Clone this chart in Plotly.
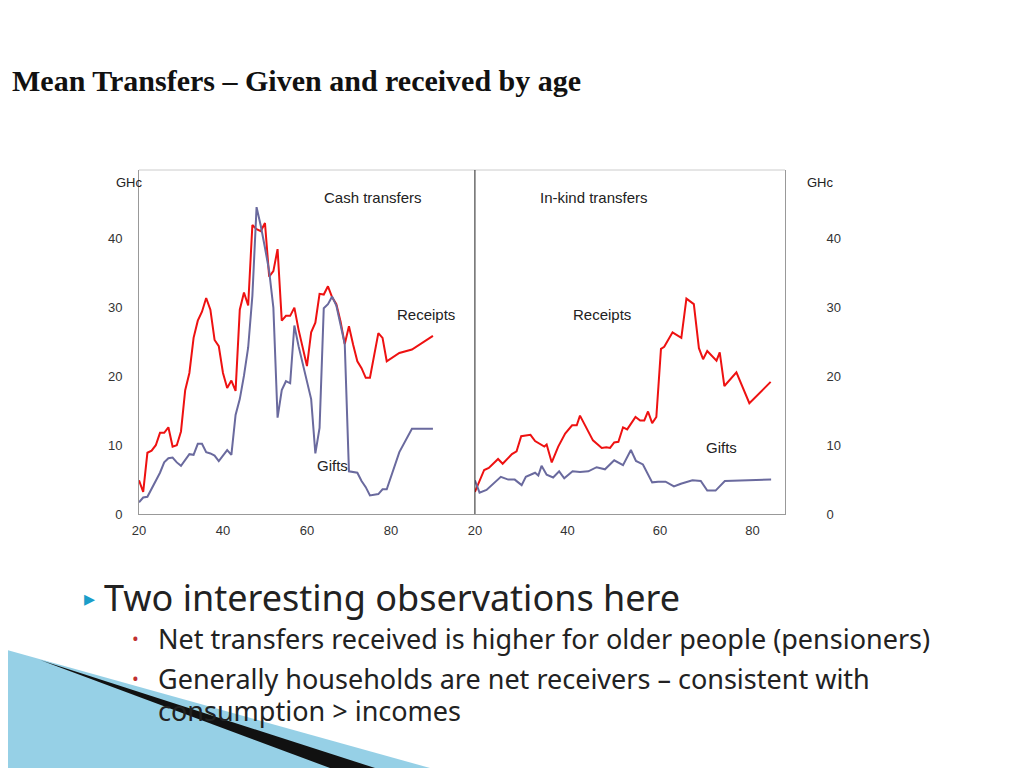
import plotly.graph_objects as go

# Cash transfers (left panel)
cash_age = [20, 21, 22, 23, 24, 25, 26, 27, 28, 29, 30, 31, 32, 33, 34, 35, 36, 37, 38, 39,
            40, 41, 42, 43, 44, 45, 46, 47, 48, 49, 50, 51, 52, 53, 54, 55, 56, 57, 58, 59,
            60, 61, 62, 63, 64, 65, 66, 67, 68, 69, 70, 71, 72, 73, 74, 75, 77, 78, 79, 82, 85, 90]
cash_receipts = [4.9, 3.2, 8.9, 9.2, 10, 11.8, 11.8, 12.6, 9.8, 10, 12, 18, 20.5, 25.6, 28.1, 29.4,
                 31.4, 29.7, 25.3, 24.4, 20.5, 18.3, 19.4, 17.9, 29.7, 32.2, 30.3, 42, 41.4, 41.1,
                 42.3, 34.5, 35.3, 38.5, 28.1, 28.8, 28.8, 30, 26.8, 23.9, 21.5, 26.4, 27.8, 32,
                 31.9, 33.1, 31.5, 30.5, 28, 24.7, 27.3, 24.6, 22.2, 21.2, 19.8, 19.8, 26.3, 25.6,
                 22.2, 23.4, 23.9, 25.9]
cash_gift_age = [20, 21, 22, 23, 24, 25, 26, 27, 28, 29, 30, 31, 32, 33, 34, 35, 36, 37, 38, 39,
                 40, 41, 42, 43, 44, 45, 46, 47, 48, 49, 50, 51, 52, 53, 54, 55, 56, 57, 58, 59,
                 60, 61, 62, 63, 64, 65, 66, 67, 69, 70, 72, 73, 74, 75, 77, 78, 79, 82, 85, 90]
cash_gifts = [1.7, 2.4, 2.5, 3.7, 4.8, 6, 7.5, 8.1, 8.2, 7.5, 7, 7.8, 8.7, 8.6, 10.2, 10.2, 9, 8.8,
              8.5, 7.7, 8.5, 9.3, 8.6, 14.4, 16.7, 20.1, 24.2, 31.7, 44.6, 41.9, 38.7, 35.3, 30,
              14, 18, 19.3, 19, 27.4, 24.4, 21.7, 19.1, 16.7, 8.8, 12.5, 29.9, 30.5, 31.6, 30.3,
              24.7, 6.2, 6.0, 4.8, 3.9, 2.7, 2.9, 3.6, 3.6, 9, 12.4, 12.4]

# In-kind transfers (right panel)
kind_age = [20, 22, 23, 25, 26, 28, 29, 30, 32, 33, 35, 35.5, 36.6, 38, 39.5, 41, 42, 42.7, 45.5,
            47.4, 48.4, 49.2, 50.1, 51, 52, 52.9, 54.7, 55.7, 56.6, 57.4, 58.3, 59.2, 60.2, 60.9,
            62.7, 63.7, 64.6, 65.7, 67.3, 68.4, 69.3, 70.2, 72.2, 72.9, 73.9, 76.5, 79.3, 83.9]
kind_receipts = [3.2, 6.4, 6.7, 8.0, 7.3, 8.7, 9.1, 11.3, 11.5, 10.6, 9.8, 10.1, 7.5, 9.8, 11.7,
                 12.9, 12.9, 14.3, 10.7, 9.6, 9.7, 9.6, 10.4, 10.5, 12.6, 12.3, 14.1, 13.6, 13.6,
                 14.9, 13.2, 14.1, 24, 24.3, 26.4, 26, 25.6, 31.3, 30.5, 24.1, 22.5, 23.7, 22.3,
                 23.5, 18.6, 20.6, 16.1, 19.2]
kind_gift_age = [20, 21, 22.5, 24, 25.6, 27.2, 28.6, 30.1, 31, 33, 33.7, 34.4, 35.5, 36.9, 38.2,
                 39.3, 41.1, 42.7, 44.5, 46.3, 48.1, 50.1, 52, 53.7, 54.8, 56.3, 58.3, 59.6, 61.2,
                 63, 64.5, 67, 68.8, 70.2, 72, 74, 84]
kind_gifts = [4.9, 3.1, 3.5, 4.4, 5.4, 5.0, 5.0, 4.2, 5.4, 6.0, 5.6, 7.0, 5.7, 5.3, 6.2, 5.2, 6.2,
              6.1, 6.2, 6.8, 6.5, 7.8, 7.1, 9.3, 7.7, 7.2, 4.6, 4.7, 4.7, 4.0, 4.4, 4.9, 4.8, 3.4,
              3.4, 4.8, 5.0]

x_ticks = [20, 40, 60, 80]
y_ticks = [0, 10, 20, 30, 40]

red = "#ee1111"
purple = "#6a6a9e"
font = "Liberation Sans"


def px(X, Y):
    # screen pixel -> paper coords (plot area 139..785 x 170..514 on screen)
    return (X - 139) / 646, (514 - Y) / 344


fig = go.Figure()
fig.add_trace(go.Scatter(x=cash_age, y=cash_receipts, mode="lines",
                         line=dict(color=red, width=2), xaxis="x", yaxis="y"))
fig.add_trace(go.Scatter(x=cash_gift_age, y=cash_gifts, mode="lines",
                         line=dict(color=purple, width=2), xaxis="x", yaxis="y"))
fig.add_trace(go.Scatter(x=kind_age, y=kind_receipts, mode="lines",
                         line=dict(color=red, width=2), xaxis="x2", yaxis="y2"))
fig.add_trace(go.Scatter(x=kind_gift_age, y=kind_gifts, mode="lines",
                         line=dict(color=purple, width=2), xaxis="x2", yaxis="y2"))

split = 0.52
ax_common = dict(tickvals=x_ticks, showgrid=False, zeroline=False, showline=True,
                 linecolor="#999999", ticks="", ticklabelstandoff=4,
                 tickfont=dict(size=13, color="#333"))
y_common = dict(range=[0, 50], tickvals=y_ticks, showgrid=False, zeroline=False,
                showline=True, linecolor="#999999", ticks="",
                tickfont=dict(size=13, color="#333"))

fig.update_layout(
    width=1024, height=768, showlegend=False,
    paper_bgcolor="white", plot_bgcolor="white",
    margin=dict(l=131, r=247, t=162, b=262),
    font=dict(family=font),
    xaxis=dict(domain=[0, split], range=[20, 100], anchor="y", **ax_common),
    xaxis2=dict(domain=[split, 1], range=[20, 87], anchor="y2", **ax_common),
    yaxis=dict(domain=[0, 1], anchor="x", side="left", ticklabelstandoff=13, **y_common),
    yaxis2=dict(domain=[0, 1], anchor="x2", side="right", ticklabelstandoff=38, **y_common),
)

# frame and divider
fig.add_shape(type="line", xref="paper", yref="paper", x0=0, x1=1, y0=1, y1=1,
              line=dict(color="#cccccc", width=1))
fig.add_shape(type="line", xref="paper", yref="paper", x0=split, x1=split, y0=0, y1=1,
              line=dict(color="#222222", width=1))

labels = [
    ("Cash transfers", 322, 187, 15),
    ("In-kind transfers", 650, 187, 15),
    ("Receipts", 426, 314, 15),
    ("Receipts", 633, 314, 15),
    ("Gifts", 739, 458, 15),
    ("Gifts", 315, 476, 15),
    ("GHc", 114, 173, 13),
    ("GHc", 836, 173, 13),
]
for txt, X, Y, sz in labels:
    ax, ay = px(X, Y)
    fig.add_annotation(xref="paper", yref="paper", x=ax, y=ay, text=txt, showarrow=False,
                       font=dict(size=sz, color="#222"))

# slide text
tx, ty = px(10, 80)
fig.add_annotation(xref="paper", yref="paper", x=tx, y=ty, xanchor="left", yanchor="middle",
                   text="<b>Mean Transfers – Given and received by age</b>", showarrow=False,
                   font=dict(size=30, color="#111", family="Liberation Sans Narrow"))

slide_lines = [
    ("▸", 82, 597, 22, "#1a9ec9"),
    ("Two interesting observations here", 102, 597, 36, "#222"),
    ("•", 130, 638, 18, "#c03030"),
    ("Net transfers received is higher for older people (pensioners)", 156, 638, 27, "#222"),
    ("•", 130, 678, 18, "#c03030"),
    ("Generally households are net receivers – consistent with", 156, 678, 27, "#222"),
    ("consumption > incomes", 156, 710, 27, "#222"),
]
for txt, X, Y, sz, col in slide_lines:
    ax, ay = px(X, Y)
    fig.add_annotation(xref="paper", yref="paper", x=ax, y=ay, xanchor="left", yanchor="middle",
                       text=txt, showarrow=False,
                       font=dict(size=sz, color=col, family="Noto Sans"))

# decorative swoosh in the corner
p = [px(0, 648), px(430, 768), px(0, 768)]
fig.add_shape(type="path", xref="paper", yref="paper", layer="below",
              path="M %f %f L %f %f L %f %f Z" % (p[0] + p[1] + p[2]),
              fillcolor="#7cc4e0", line=dict(width=0), opacity=0.8)
q = [px(40, 660), px(375, 768), px(330, 768)]
fig.add_shape(type="path", xref="paper", yref="paper",
              path="M %f %f L %f %f L %f %f Z" % (q[0] + q[1] + q[2]),
              fillcolor="#111111", line=dict(width=0))

fig.write_html("out.html")
